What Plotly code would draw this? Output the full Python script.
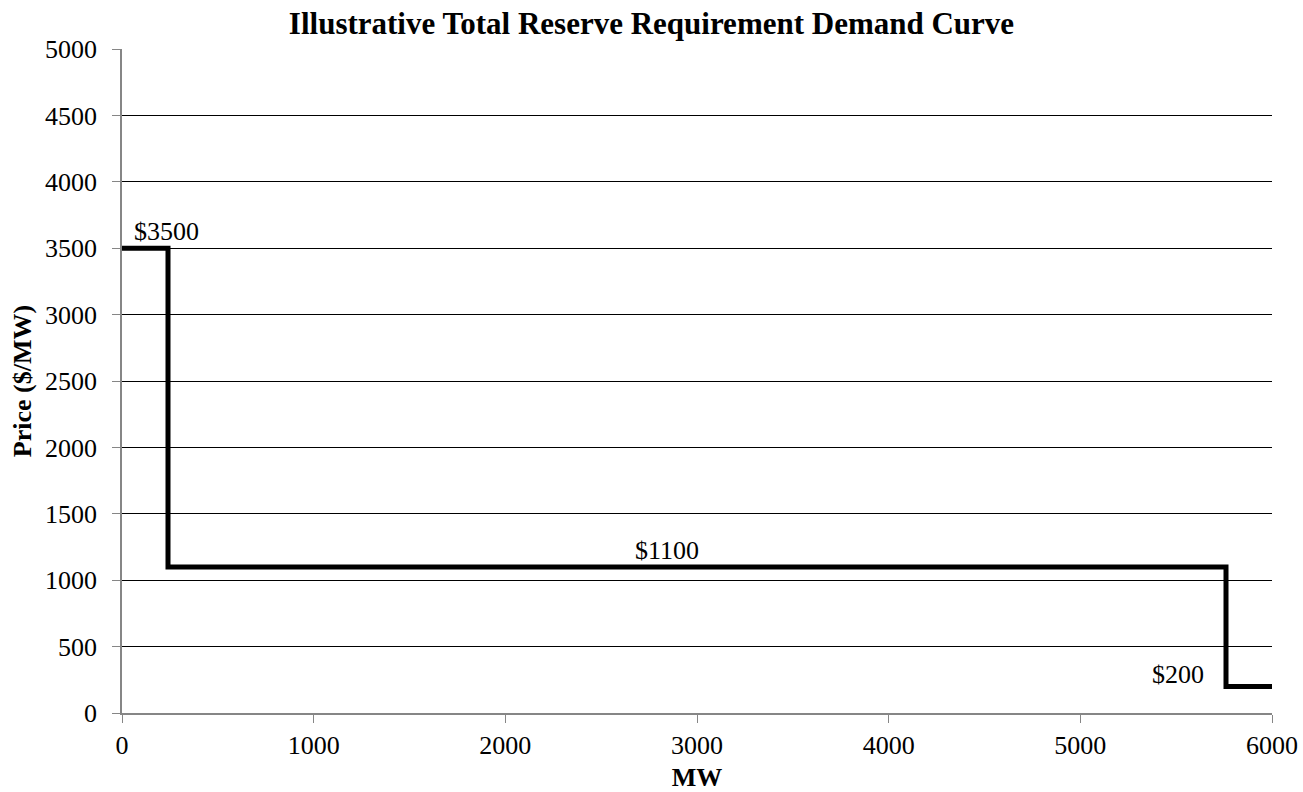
import plotly.graph_objects as go

mw = [0, 240, 240, 5760, 5760, 6000]
price = [3500, 3500, 1100, 1100, 200, 200]

label_x = [0, 2843, 5510]
label_y = [3500, 1100, 200]
label_text = ["$3500", "$1100", "$200"]
label_xanchor = ["left", "center", "center"]
label_xshift = [10, 0, 0]
label_yshift = [0, 0, -5]

FONT = "Liberation Serif, Times New Roman, serif"
FS = 26

fig = go.Figure()
fig.add_trace(go.Scatter(x=mw, y=price, mode="lines",
                         line=dict(color="black", width=5), showlegend=False,
                         hoverinfo="skip"))

for x, y, t, xa, xs, ys in zip(label_x, label_y, label_text, label_xanchor,
                               label_xshift, label_yshift):
    fig.add_annotation(x=x, y=y, text=t, showarrow=False, xanchor=xa,
                       yanchor="bottom", yshift=ys, xshift=xs,
                       font=dict(family=FONT, size=FS, color="black"))

fig.update_layout(
    width=1303, height=792,
    margin=dict(l=122, r=31, t=49, b=79, autoexpand=False),
    paper_bgcolor="white", plot_bgcolor="white",
    font=dict(family=FONT, size=FS, color="black"),
    title=dict(text="<b>Illustrative Total Reserve Requirement Demand Curve</b>",
               x=0.5, xanchor="center", y=0.985, yanchor="top",
               font=dict(family=FONT, size=31, color="black")),
    xaxis=dict(range=[0, 6000], tickvals=[0, 1000, 2000, 3000, 4000, 5000, 6000],
               showgrid=False, zeroline=False, showline=True, linecolor="#868686",
               linewidth=1.5, ticks="outside", tickcolor="#868686", ticklen=8,
               automargin=False,
               tickfont=dict(family=FONT, size=FS),
               title=dict(text="<b>MW</b>", standoff=9,
                          font=dict(family=FONT, size=FS))),
    yaxis=dict(range=[0, 5000], tickvals=list(range(0, 5001, 500)),
               showgrid=True, gridcolor="black", gridwidth=1.2, zeroline=False,
               showline=True, linecolor="#868686", linewidth=1.5,
               ticks="outside", tickcolor="#868686", ticklen=8,
               ticklabelstandoff=10, automargin=False,
               tickfont=dict(family=FONT, size=FS),
               title=dict(text="<b>Price ($/MW)</b>", standoff=6,
                          font=dict(family=FONT, size=FS))),
)

fig.write_html("out.html")
